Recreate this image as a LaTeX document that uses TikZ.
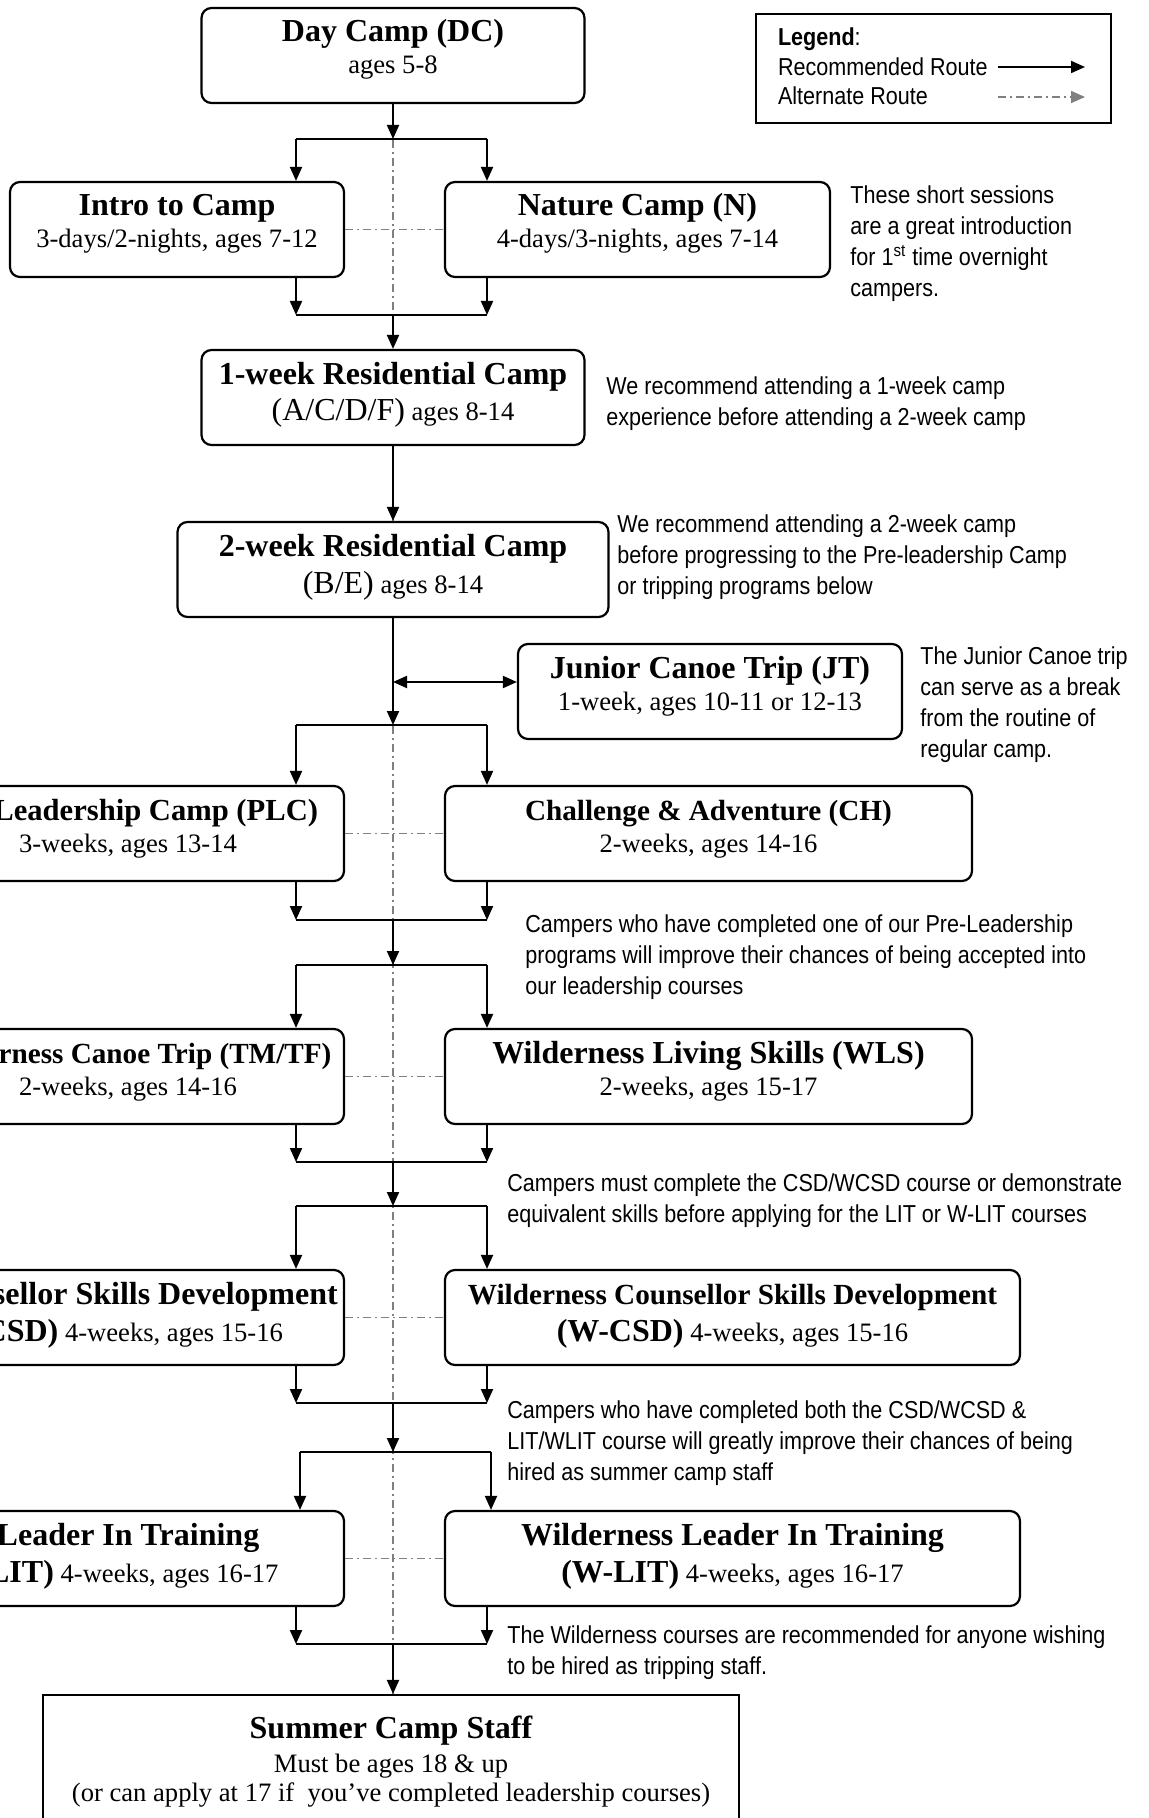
\documentclass[tikz,border=0pt]{standalone}
\usepackage{fontspec}
\setmainfont{Liberation Serif}
\newfontfamily\notefont[FakeStretch=0.88]{Liberation Sans}
\usetikzlibrary{arrows.meta}
\definecolor{altgrey}{gray}{0.5}

\newcommand{\ttl}{\fontsize{16pt}{16pt}\selectfont\bfseries}
\newcommand{\mttl}{\fontsize{15.3pt}{16pt}\selectfont\bfseries}
\newcommand{\sttl}{\fontsize{14.6pt}{16pt}\selectfont\bfseries}
\newcommand{\bigrm}{\fontsize{16pt}{16pt}\selectfont}
\newcommand{\boxlines}[3][47.5pt]{\begin{minipage}[c][#1][t]{#2}\centering
  \fontsize{13.3pt}{16pt}\selectfont\rule{0pt}{17pt}#3\end{minipage}}

\tikzset{
  campbox/.style={draw, line width=1.1pt, rounded corners=5pt, fill=white, inner sep=0pt},
  staffbox/.style={draw, line width=1.1pt, fill=white, inner sep=0pt},
  note/.style={anchor=north west, inner sep=0pt, align=left,
    font=\notefont\fontsize{12.25pt}{15.5pt}\selectfont},
  rec/.style={line width=1pt, -{Triangle[width=6pt,length=7pt]}},
  link/.style={line width=1pt},
  twoway/.style={line width=1pt, {Triangle[width=6pt,length=7pt]}-{Triangle[width=6pt,length=7pt]}},
  alt/.style={altgrey, line width=0.8pt, dash pattern=on 4pt off 2pt on 1pt off 2pt},
}

\begin{document}
\begin{tikzpicture}[x=1pt,y=-1pt]
  \useasboundingbox (0,0) rectangle (574,909);

  % camp boxes
  \node[campbox] (dc) at (196.5,27.75) {\boxlines{191.5pt}{{\ttl Day Camp (DC)}\\ ages 5-8}};
  \node[campbox] (intro) at (88.5,114.75) {\boxlines{167pt}{{\ttl Intro to Camp}\\ 3-days/2-nights, ages 7-12}};
  \node[campbox] (nature) at (318.75,114.75) {\boxlines{192.5pt}{{\ttl Nature Camp (N)}\\ 4-days/3-nights, ages 7-14}};
  \node[campbox] (wk1) at (196.5,198.75) {\boxlines{191.5pt}{{\ttl 1-week Residential Camp}\\[2.5pt] {\bigrm (A/C/D/F)} ages 8-14}};
  \node[campbox] (wk2) at (196.5,284.75) {\boxlines{215.5pt}{{\ttl 2-week Residential Camp}\\[2.5pt] {\bigrm (B/E)} ages 8-14}};
  \node[campbox] (jt) at (355,345.75) {\boxlines{192pt}{{\ttl Junior Canoe Trip (JT)}\\ 1-week, ages 10-11 or 12-13}};
  \node[campbox] (plc) at (64,416.75) {\boxlines{216pt}{{\mttl Pre-Leadership Camp (PLC)}\\ 3-weeks, ages 13-14}};
  \node[campbox] (ch) at (354.25,416.75) {\boxlines{263.5pt}{{\sttl Challenge \& Adventure (CH)}\\ 2-weeks, ages 14-16}};
  \node[campbox] (tm) at (64,538.25) {\boxlines{216pt}{{\sttl Wilderness Canoe Trip (TM/TF)}\\ 2-weeks, ages 14-16}};
  \node[campbox] (wls) at (354.25,538.25) {\boxlines{263.5pt}{{\ttl Wilderness Living Skills (WLS)}\\ 2-weeks, ages 15-17}};
  \node[campbox] (csd) at (64,658.75) {\boxlines{216pt}{{\ttl Counsellor Skills Development}\\[2.5pt] {\ttl (CSD)} 4-weeks, ages 15-16}};
  \node[campbox] (wcsd) at (366.25,658.75) {\boxlines{287.5pt}{{\sttl Wilderness Counsellor Skills Development}\\[2.5pt] {\ttl (W-CSD)} 4-weeks, ages 15-16}};
  \node[campbox] (lit) at (64,779.25) {\boxlines{216pt}{{\ttl Leader In Training}\\[2.5pt] {\ttl (LIT)} 4-weeks, ages 16-17}};
  \node[campbox] (wlit) at (366.25,779.25) {\boxlines{287.5pt}{{\ttl Wilderness Leader In Training}\\[2.5pt] {\ttl (W-LIT)} 4-weeks, ages 16-17}};
  \node[staffbox] (staff) at (195.5,887.5) {\boxlines[80pt]{348pt}{\rule{0pt}{21.5pt}{\ttl Summer Camp Staff}\\[1pt] Must be ages 18 \& up\\[-1.5pt] (or can apply at 17 if\ \ you’ve completed leadership courses)}};

  % legend
  \node[draw, line width=1.1pt, inner sep=0pt] (legend) at (466.75,34.25) {\begin{minipage}[c][54.5pt][t]{177.5pt}
    \notefont\fontsize{12.25pt}{14.75pt}\selectfont\raggedright\leftskip=11pt
    \rule{0pt}{16pt}\textbf{Legend}:\\ Recommended Route\\ Alternate Route\end{minipage}};
  \coordinate (recfrom) at (499,33.5);
  \coordinate (recto) at (542.5,33.5);
  \coordinate (altfrom) at (499,48.5);
  \coordinate (altto) at (542.5,48.5);
  \draw[rec] (recfrom) -- (recto);
  \draw[alt, -{Triangle[width=6pt,length=7pt]}] (altfrom) -- (altto);

  % notes
  \node[note] (n1) at (425,92.5) {These short sessions\\ are a great introduction\\ for 1\textsuperscript{st} time overnight\\ campers.};
  \node[note] (n2) at (303,188) {We recommend attending a 1-week camp\\ experience before attending a 2-week camp};
  \node[note] (n3) at (308.5,257) {We recommend attending a 2-week camp\\ before progressing to the Pre-leadership Camp\\ or tripping programs below};
  \node[note] (n4) at (460,323) {The Junior Canoe trip\\ can serve as a break\\ from the routine of\\ regular camp.};
  \node[note] (n5) at (262.5,457) {Campers who have completed one of our Pre-Leadership\\ programs will improve their chances of being accepted into\\ our leadership courses};
  \node[note] (n6) at (253.5,586.5) {Campers must complete the CSD/WCSD course or demonstrate\\ equivalent skills before applying for the LIT or W-LIT courses};
  \node[note] (n7) at (253.5,700) {Campers who have completed both the CSD/WCSD \&\\ LIT/WLIT course will greatly improve their chances of being\\ hired as summer camp staff};
  \node[note] (n8) at (253.5,812.5) {The Wilderness courses are recommended for anyone wishing\\ to be hired as tripping staff.};

  % alternate routes
  \draw[alt] (dc.south) -- (wk1.north);
  \draw[alt] (wk1.south) -- (wk2.north);
  \draw[alt] (wk2.south) -- (wk2.south |- staff.north);
  \draw[alt] (intro.east) -- (nature.west);
  \draw[alt] (plc.east) -- (ch.west);
  \draw[alt] (tm.east) -- (wls.west);
  \draw[alt] (csd.east) -- (wcsd.west);
  \draw[alt] (lit.east) -- (wlit.west);

  % junctions
  \coordinate (s1) at (196.5,69.5);   \coordinate (s1l) at (148,69.5);  \coordinate (s1r) at (243.5,69.5);
  \coordinate (m1) at (196.5,157.5);  \coordinate (m1l) at (148,157.5); \coordinate (m1r) at (243.5,157.5);
  \coordinate (jtx) at (196.5,341);
  \coordinate (s2) at (196.5,362.5);  \coordinate (s2l) at (148,362.5); \coordinate (s2r) at (243.5,362.5);
  \coordinate (m2) at (196.5,460);    \coordinate (m2l) at (148,460);   \coordinate (m2r) at (243.5,460);
  \coordinate (s3) at (196.5,482.5);  \coordinate (s3l) at (148,482.5); \coordinate (s3r) at (243.5,482.5);
  \coordinate (m3) at (196.5,581);    \coordinate (m3l) at (148,581);   \coordinate (m3r) at (243.5,581);
  \coordinate (s4) at (196.5,603);    \coordinate (s4l) at (148,603);   \coordinate (s4r) at (243.5,603);
  \coordinate (m4) at (196.5,701.5);  \coordinate (m4l) at (148,701.5); \coordinate (m4r) at (243.5,701.5);
  \coordinate (s5) at (196.5,726);    \coordinate (s5l) at (150,726);   \coordinate (s5r) at (245.5,726);
  \coordinate (m5) at (196.5,822);    \coordinate (m5l) at (148,822);   \coordinate (m5r) at (243.5,822);

  % recommended routes
  \draw[rec] (dc.south) -- (s1);
  \draw[link] (s1l) -- (s1r);
  \draw[rec] (s1l) -- (s1l |- intro.north);
  \draw[rec] (s1r) -- (s1r |- nature.north);
  \draw[rec] (m1l |- intro.south) -- (m1l);
  \draw[rec] (m1r |- nature.south) -- (m1r);
  \draw[link] (m1l) -- (m1r);
  \draw[rec] (m1) -- (wk1.north);

  \draw[rec] (wk1.south) -- (wk2.north);
  \draw[rec] (wk2.south) -- (s2);
  \draw[twoway] (jtx) -- (jtx -| jt.west);

  \draw[link] (s2l) -- (s2r);
  \draw[rec] (s2l) -- (s2l |- plc.north);
  \draw[rec] (s2r) -- (s2r |- ch.north);
  \draw[rec] (m2l |- plc.south) -- (m2l);
  \draw[rec] (m2r |- ch.south) -- (m2r);
  \draw[link] (m2l) -- (m2r);
  \draw[rec] (m2) -- (s3);

  \draw[link] (s3l) -- (s3r);
  \draw[rec] (s3l) -- (s3l |- tm.north);
  \draw[rec] (s3r) -- (s3r |- wls.north);
  \draw[rec] (m3l |- tm.south) -- (m3l);
  \draw[rec] (m3r |- wls.south) -- (m3r);
  \draw[link] (m3l) -- (m3r);
  \draw[rec] (m3) -- (s4);

  \draw[link] (s4l) -- (s4r);
  \draw[rec] (s4l) -- (s4l |- csd.north);
  \draw[rec] (s4r) -- (s4r |- wcsd.north);
  \draw[rec] (m4l |- csd.south) -- (m4l);
  \draw[rec] (m4r |- wcsd.south) -- (m4r);
  \draw[link] (m4l) -- (m4r);
  \draw[rec] (m4) -- (s5);

  \draw[link] (s5l) -- (s5r);
  \draw[rec] (s5l) -- (s5l |- lit.north);
  \draw[rec] (s5r) -- (s5r |- wlit.north);
  \draw[rec] (m5l |- lit.south) -- (m5l);
  \draw[rec] (m5r |- wlit.south) -- (m5r);
  \draw[link] (m5l) -- (m5r);
  \draw[rec] (m5) -- (m5 |- staff.north);
\end{tikzpicture}
\end{document}
